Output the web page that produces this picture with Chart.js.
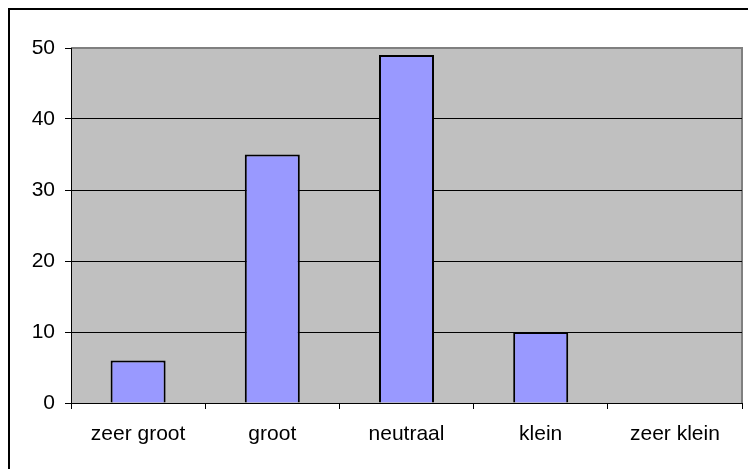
<!DOCTYPE html>
<html>
<head>
<meta charset="utf-8">
<script src="https://cdn.jsdelivr.net/npm/chart.js@4/dist/chart.umd.min.js"></script>
<style>
  html, body { margin: 0; padding: 0; background: #fff; }
  #wrap { width: 748px; height: 469px; }
</style>
</head>
<body>
<div id="wrap"><canvas id="myChart" width="748" height="469"></canvas></div>
<script>
// categorieën en aantallen
var categories = ["zeer groot", "groot", "neutraal", "klein", "zeer klein"];
var counts = [6, 35, 49, 10, 0];
var yTicks = [0, 10, 20, 30, 40, 50];

// achtergrond, kader en grijs plotvlak
var frame = {
    id: "frame",
    beforeDraw: function(chart) {
        var c = chart.ctx, a = chart.chartArea;
        c.save();
        c.fillStyle = "#fff";
        c.fillRect(0, 0, chart.width, chart.height);
        c.strokeStyle = "#000";
        c.lineWidth = 2;
        c.strokeRect(9, 9, chart.width + 20, chart.height + 20);
        c.fillStyle = "#c0c0c0";
        c.fillRect(a.left, a.top, a.right - a.left, a.bottom - a.top);
        c.strokeStyle = "#808080";
        c.lineWidth = 2;
        c.beginPath();
        c.moveTo(a.left, a.top);
        c.lineTo(a.right, a.top);
        c.lineTo(a.right, a.bottom);
        c.stroke();
        c.restore();
    }
};

var ctx = document.getElementById("myChart").getContext("2d");
var myChart = new Chart(ctx, {
    type: "bar",
    data: {
        labels: categories,
        datasets: [{
            data: counts,
            backgroundColor: "#9999ff",
            borderColor: "#000",
            borderWidth: 2,
            barPercentage: 0.41,
            categoryPercentage: 1
        }]
    },
    options: {
        responsive: false,
        animation: false,
        layout: { padding: { left: 0, top: 48, right: 6, bottom: 0 } },
        plugins: { legend: { display: false }, tooltip: { enabled: false } },
        scales: {
            x: {
                grid: { drawOnChartArea: false, offset: true, tickLength: 6, color: "#000" },
                border: { color: "#000", width: 1 },
                ticks: { color: "#000", font: { family: "Liberation Sans, Arial", size: 21 }, padding: 13, maxRotation: 0 },
                afterFit: function(s) { s.height = 66; }
            },
            y: {
                min: 0,
                max: 50,
                afterBuildTicks: function(s) { s.ticks = yTicks.map(function(v) { return { value: v }; }); },
                grid: {
                    tickLength: 6,
                    tickColor: "#000",
                    color: function(c) { return c.tick && c.tick.value === 50 ? "#808080" : "#000"; }
                },
                border: { color: "#000", width: 1 },
                ticks: { color: "#000", font: { family: "Liberation Sans, Arial", size: 21 }, padding: 10 },
                afterFit: function(s) { s.width = 71; }
            }
        }
    },
    plugins: [frame]
});
</script>
</body>
</html>
